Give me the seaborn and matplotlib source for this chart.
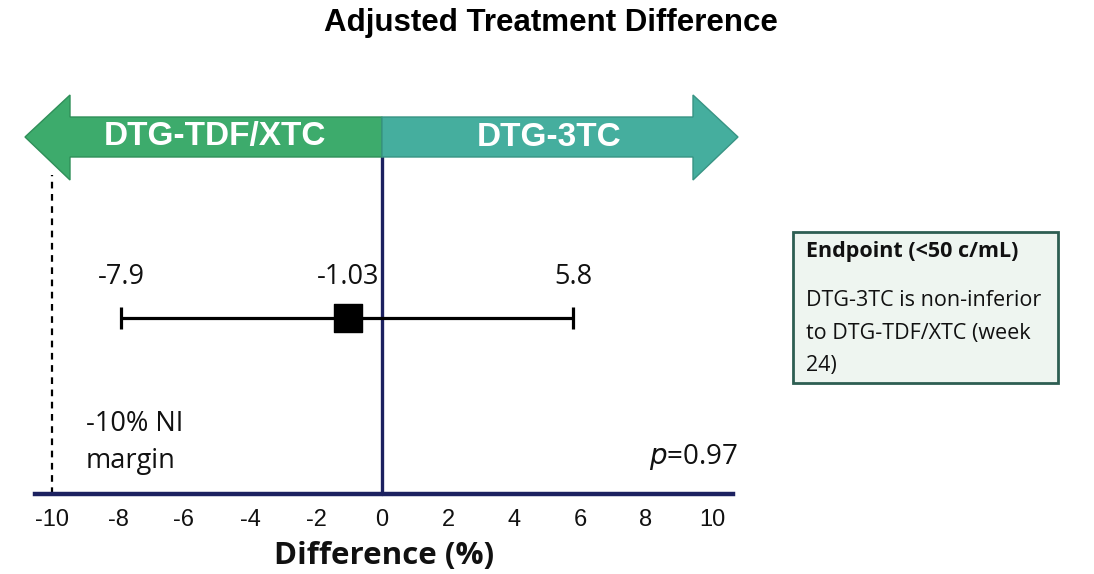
import matplotlib
matplotlib.use("Agg")
import matplotlib.pyplot as plt
import matplotlib.transforms as mtransforms
from matplotlib.patches import Polygon, Rectangle
import seaborn as sns
import pandas as pd

# ---- data ----
estimate = [-1.03]
ci_low = [-7.9]
ci_high = [5.8]
ni_margin = -10
p_value = 0.97
tick_values = [-10, -8, -6, -4, -2, 0, 2, 4, 6, 8, 10]
arm_labels = ["DTG-TDF/XTC", "DTG-3TC"]
title = "Adjusted Treatment Difference"
xlabel = "Difference (%)"
margin_lines = ["-10% NI", "margin"]
box_title = "Endpoint (<50 c/mL)"
box_lines = ["DTG-3TC is non-inferior", "to DTG-TDF/XTC (week", "24)"]

sns.set_style("white")
plt.rcParams["font.family"] = ["Open Sans", "DejaVu Sans"]
plt.rcParams["text.color"] = "#111111"

W, H = 1094, 574
fig = plt.figure(figsize=(W / 100, H / 100), dpi=100)
ax_left, ax_right, ax_bottom, ax_top = 35, 733, 494, 90
ax = fig.add_axes([ax_left / W, 1 - ax_bottom / H, (ax_right - ax_left) / W, (ax_bottom - ax_top) / H])

px_per_unit = 33.0
zero_px = 382
xmin = (ax_left - zero_px) / px_per_unit
xmax = (ax_right - zero_px) / px_per_unit
ax.set_xlim(xmin, xmax)
ax.set_ylim(0, 1)
for s in ["top", "right", "left"]:
    ax.spines[s].set_visible(False)
navy = "#1c2160"
ax.spines["bottom"].set_color(navy)
ax.spines["bottom"].set_linewidth(3.2)
ax.set_yticks([])
ax.patch.set_alpha(0)

blend = mtransforms.blended_transform_factory(ax.transData, ax.transAxes)


def yf(px):
    return (ax_bottom - px) / (ax_bottom - ax_top)


# arrows
body_top, body_bot, head_top, head_bot, mid = yf(117), yf(157), yf(95), yf(180), yf(137)
tipL, baseL = (25 - zero_px) / px_per_unit, (70 - zero_px) / px_per_unit
tipR, baseR = (738 - zero_px) / px_per_unit, (693 - zero_px) / px_per_unit
left_poly = Polygon([(0, body_top), (baseL, body_top), (baseL, head_top), (tipL, mid),
                     (baseL, head_bot), (baseL, body_bot), (0, body_bot)], closed=True,
                    facecolor="#3dab6c", edgecolor="#2f8f59", lw=1, transform=blend, clip_on=False, zorder=3)
right_poly = Polygon([(0, body_top), (baseR, body_top), (baseR, head_top), (tipR, mid),
                      (baseR, head_bot), (baseR, body_bot), (0, body_bot)], closed=True,
                     facecolor="#45ae9e", edgecolor="#389484", lw=1, transform=blend, clip_on=False, zorder=3)
ax.add_patch(left_poly)
ax.add_patch(right_poly)
arrow_font = ["Liberation Sans", "DejaVu Sans"]
ax.text(-5.05, mid, arm_labels[0], transform=blend, ha="center", va="center", color="white",
        fontsize=24, fontweight="bold", family=arrow_font, zorder=4)
ax.text(5.05, mid, arm_labels[1], transform=blend, ha="center", va="center", color="white",
        fontsize=24, fontweight="bold", family=arrow_font, zorder=4)

# zero line
ax.plot([0, 0], [0, body_bot], color=navy, lw=2.4, transform=blend, zorder=2, clip_on=False)
# NI margin dashed line
ax.plot([ni_margin, ni_margin], [0, yf(175)], color="black", lw=1.6, ls=(0, (3, 2.5)),
        transform=blend, zorder=2, clip_on=False)

# CI and estimate
y_ci = yf(318)
df = pd.DataFrame({"est": estimate, "lo": ci_low, "hi": ci_high, "y": [y_ci]})
ax.errorbar(df["est"], df["y"], xerr=[df["est"] - df["lo"], df["hi"] - df["est"]],
            fmt="none", ecolor="black", elinewidth=2.3, capsize=8, capthick=2.3, zorder=4)
sns.scatterplot(data=df, x="est", y="y", marker="s", s=420, color="black", edgecolor="black",
                linewidth=1, ax=ax, zorder=5, legend=False)

ax.set_xticks(tick_values)
ax.set_xticklabels([str(t) for t in tick_values], fontsize=17,
                   family=["Liberation Sans", "DejaVu Sans"])
ax.tick_params(axis="x", length=0, pad=11, colors="#111111")
ax.set_xlabel(xlabel, fontsize=22.5, fontweight="bold", labelpad=7, color="#111111")
ax.set_ylabel("")

y_lab = yf(277)
for v in [ci_low[0], estimate[0], ci_high[0]]:
    ax.text(v, y_lab, f"{v:g}", ha="center", va="center", fontsize=19.5, color="#111111")

for line, ypx in zip(margin_lines, [424, 461]):
    ax.text((86 - ax_left) / (ax_right - ax_left), yf(ypx), line, transform=ax.transAxes,
            ha="left", va="center", fontsize=19.5, color="#111111")
ax.text((738 - ax_left) / (ax_right - ax_left), yf(457), f"$p$={p_value:.2f}",
        transform=ax.transAxes, ha="right", va="center", fontsize=20, color="#111111")

# title
fig.text(0.504, 1 - 23 / H, title, ha="center", va="center", fontsize=22.5, fontweight="bold",
         family=["Liberation Sans", "DejaVu Sans"], color="black")

# text box
bx0, by0, bx1, by1 = 793, 232, 1058, 383
fig.patches.append(Rectangle((bx0 / W, 1 - by1 / H), (bx1 - bx0) / W, (by1 - by0) / H,
                             transform=fig.transFigure, facecolor="#eef5f0", edgecolor="#2d5e52",
                             lw=2, zorder=1))
fig.text(806 / W, 1 - 251 / H, box_title, ha="left", va="center", fontsize=15.5, fontweight="bold",
         color="#111111", zorder=2)
for line, ypx in zip(box_lines, [301, 334, 366]):
    fig.text(806 / W, 1 - ypx / H, line, ha="left", va="center", fontsize=15.5, color="#111111", zorder=2)

fig.savefig("out.png", dpi=100)
